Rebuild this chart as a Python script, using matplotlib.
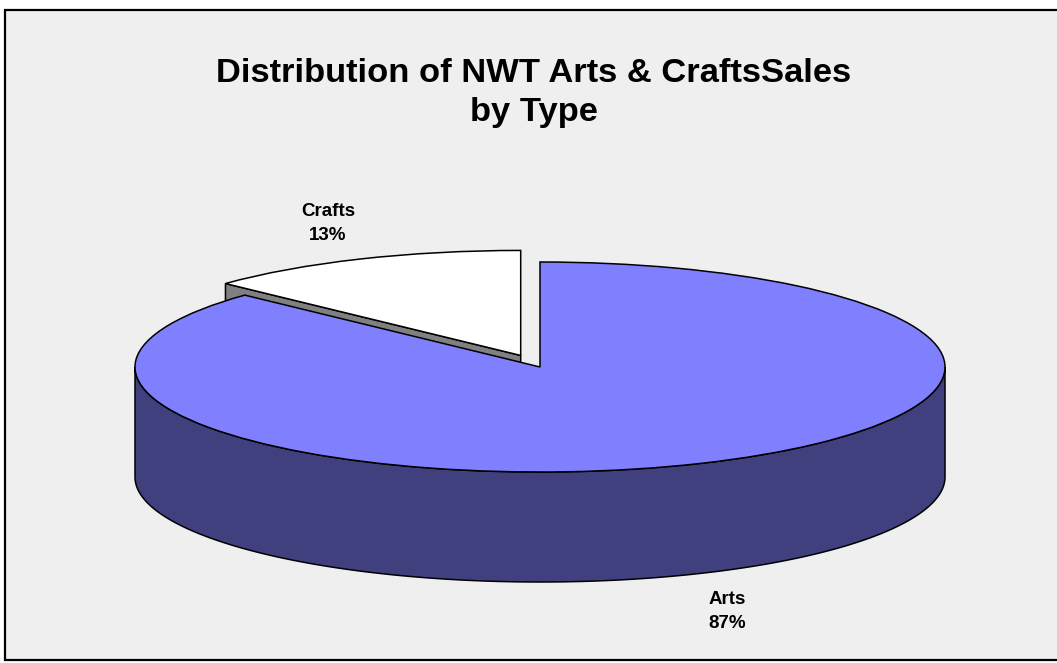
import numpy as np
from matplotlib import pyplot as plt
from matplotlib.patches import Rectangle

plt.rcParams['font.family'] = ['Liberation Sans', 'DejaVu Sans']

# sales share by type
categories = ["Arts", "Crafts"]
shares = [87, 13]
slice_colors = ["#8080FF", "#FFFFFF"]

W, H = 1057, 663
cx, cy = 540, 367      # pie centre, pixels
rx, ry = 405, 105      # ellipse radii, pixels
depth = 110 / ry       # height of the disc in y units

fig = plt.figure(figsize=(W / 100, H / 100), dpi=100, facecolor="white")

# panel with the black frame, runs off the right edge
fig.add_artist(Rectangle((5 / W, 1 - 660 / H), 1.01, 650 / H, transform=fig.transFigure,
                         facecolor="#EFEFEF", edgecolor="black", linewidth=1.6, zorder=-1))

# one data unit = one radius, so a unit pie comes out as a flat ellipse
ax = fig.add_axes([0, 0, 1, 1])
ax.patch.set_alpha(0)
wedges, _ = ax.pie(shares, colors=slice_colors, startangle=90, counterclock=False,
                   explode=[0, 0.12], wedgeprops={"edgecolor": "black", "linewidth": 1.1})
ax.set_aspect("auto")
ax.set_xlim(-cx / rx, (W - cx) / rx)
ax.set_ylim((cy - H) / ry, cy / ry)
ax.set_axis_off()

arts, crafts = wedges
arts.set_zorder(5)
crafts.set_zorder(3)

# front wall of the big slice
t = np.linspace(np.pi, 2 * np.pi, 300)
x = np.cos(t)
y = np.sin(t)
ax.fill(np.r_[x, x[::-1]], np.r_[y, y[::-1] - depth], facecolor="#40407F",
        edgecolor="black", linewidth=1.1, zorder=4)

# cut face of the pulled out slice, mostly hidden behind the big one
ang = np.radians(crafts.theta2)
c0, c1 = crafts.center
ex, ey = c0 + np.cos(ang), c1 + np.sin(ang)
ax.fill([c0, ex, ex, c0], [c1, ey, ey - depth, c1 - depth], facecolor="#808080",
        edgecolor="black", linewidth=1.1, zorder=2)

fig.text(533.5 / W, 1 - 93 / H, "Distribution of NWT Arts & CraftsSales\nby Type", ha="center", va="center",
         fontsize=24.8, fontweight="bold", linespacing=1.33)

label_pos = {"Arts": (727, 611.5), "Crafts": (328, 223.5)}
for name, share in zip(categories, shares):
    px, py = label_pos[name]
    fig.text(px / W, 1 - py / H, "{}\n{}%".format(name, share), ha="center", va="center",
             fontsize=13.5, fontweight="bold", linespacing=1.55)

fig.savefig("out.png", dpi=100)
